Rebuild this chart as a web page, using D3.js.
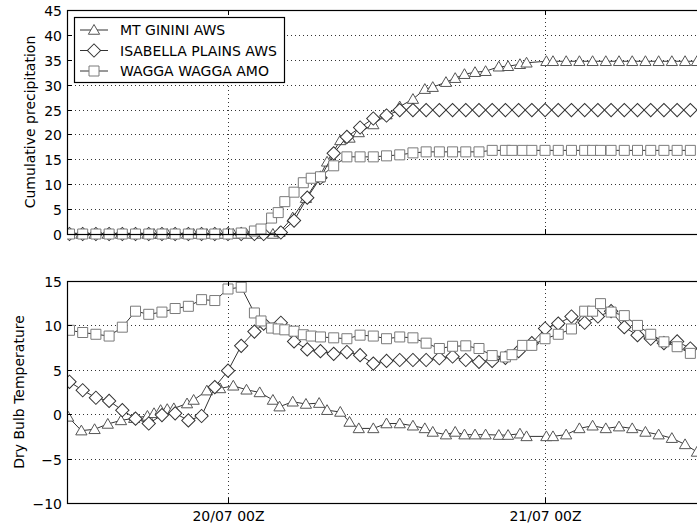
<!DOCTYPE html>
<html lang="en">
  <head>
    <meta charset="UTF-8" />
    <title>station precipitation and temperature</title>
    <style>
      body {
        margin: 0;
        background: #fff;
        overflow: hidden;
      }
      svg text {
        font-family: "DejaVu Sans", sans-serif;
        font-size: 14px;
        fill: #000;
      }
      .grid {
        stroke: #000;
        stroke-width: 0.8;
        stroke-dasharray: 1, 3;
      }
    </style>
  </head>
  <body>
    <div id="chart"></div>
    <script src="https://d3js.org/d3.v7.min.js"></script>
    <script>
      // hours relative to 20/07 00Z
      const stations = ["MT GININI AWS", "ISABELLA PLAINS AWS", "WAGGA WAGGA AMO"];

      const giniHours = [-12.1, -11.1, -10.1, -9.1, -8.1, -7.1, -6.1, -5.6, -5.1, -4.6, -4.1,
        -3.1, -2.6, -1.6, -0.6, 0.4, 1.4, 2.4, 3.4, 3.9, 4.9, 5.9, 6.9, 7.5, 8.5,
        9.2, 9.9, 11, 12, 13, 14, 14.9, 15.5, 16.5, 17.2, 17.9, 18.7, 19.5,
        20.5, 21.2, 22.1, 22.6, 24.1, 24.6, 25.6, 26.6, 27.6, 28.6, 29.6, 30.6,
        31.6, 32.6, 33.6, 34.6, 35.5];
      const giniRain = [0, 0, 0, 0, 0, 0, 0, 0, 0, 0, 0, 0, 0, 0, 0, 0, 0, 0, 0,
        0.4, 3.3, 7.2, 11.3, 14.5, 18.8, 19.3, 20.4, 22.0, 24.0, 25.6, 27.1,
        29.1, 29.5, 30.5, 31.3, 32.1, 32.5, 32.7, 33.6, 33.7, 34.1, 34.4,
        34.7, 34.7, 34.7, 34.7, 34.7, 34.7, 34.7, 34.7, 34.7, 34.7, 34.7, 34.7, 34.7];
      const giniTemp = [-0.3, -1.85, -1.7, -1.1, -0.7, -0.45, -0.2, 0.1, 0.45, 0.56, 0.65,
        1.2, 1.6, 2.65, 2.9, 3.2, 2.75, 2.45, 1.6, 0.85, 1.4, 1.15, 1.25, 0.45, 0.25,
        -0.88, -1.6, -1.6, -1.05, -1.05, -1.3, -1.6, -2.0, -2.3, -2.0, -2.3, -2.3, -2.3,
        -2.35, -2.35, -2.2, -2.5, -2.5, -2.5, -2.3, -1.6, -1.3, -1.6, -1.4, -1.6,
        -2.0, -2.3, -2.7, -3.4, -4.25];

      const isabHours = [-12, -11, -10, -9, -8, -7, -6, -5, -4, -3, -2, -1, 0, 1, 2, 2.7,
        4, 5, 6, 7, 8, 9, 10, 11, 12, 13, 14, 15, 16, 17, 18, 19, 20, 21, 22, 23,
        24, 25, 26, 27, 28, 29, 30, 31, 32, 33, 34, 35];
      const isabRain = [0, 0, 0, 0, 0, 0, 0, 0, 0, 0, 0, 0, 0, 0, 0, 0,
        0.3, 2.7, 7.3, 11.3, 16.2, 19.5, 21.4, 23.2, 23.8, 24.9, 24.9, 24.9, 24.9,
        24.9, 24.9, 24.9, 24.9, 24.9, 24.9, 24.9, 24.9, 24.9, 24.9, 24.9, 24.9,
        24.9, 24.9, 24.9, 24.9, 24.9, 24.9, 24.9];
      const isabTemp = [3.65, 2.7, 1.85, 1.5, 0.45, -0.5, -1.05, -0.1, 0.1, -0.7, -0.2,
        3.05, 4.9, 7.7, 9.3, 10.2, 10.3, 8.2, 7.3, 7.1, 6.8, 7.0, 6.65, 5.7, 6.0,
        6.1, 6.1, 6.1, 6.3, 6.5, 6.1, 5.9, 6.0, 6.35, 7.1, 8.0, 9.65, 10.2, 11.0,
        10.3, 11.0, 11.6, 9.8, 8.9, 8.5, 8.0, 8.2, 7.4];

      const waggaHours = [-12, -11, -10, -9, -8, -7, -6, -5, -4, -3, -2, -1, 0, 1, 2,
        2.5, 3.3, 3.8, 4.3, 5, 5.7, 6.3, 7, 8, 9, 10, 11, 12, 13, 14, 15, 16, 17,
        18, 19, 20, 21, 21.5, 22.3, 23, 24, 25, 26, 27, 27.6, 28.2, 29, 30, 31,
        32, 33, 34, 35];
      const waggaRain = [0, 0, 0, 0, 0, 0, 0, 0, 0, 0, 0, 0, 0, 0.2, 0.6,
        1.0, 3.2, 4.3, 6.5, 8.4, 10.3, 11.2, 11.5, 13.7, 15.5, 15.5, 15.5, 15.7,
        15.9, 16.3, 16.5, 16.5, 16.5, 16.5, 16.5, 16.8, 16.8, 16.8, 16.8, 16.8,
        16.8, 16.8, 16.8, 16.8, 16.8, 16.8, 16.8, 16.8, 16.8, 16.8, 16.8, 16.8, 16.8];
      const waggaTemp = [9.45, 9.2, 9.0, 8.8, 9.8, 11.6, 11.25, 11.5, 11.9, 12.15, 12.9,
        12.8, 14.1, 14.3, 11.4, 10.5, 9.7, 9.6, 9.5, 9.35, 8.95, 8.8, 8.7, 8.6, 8.5,
        8.9, 8.8, 8.5, 8.7, 8.6, 8.0, 7.4, 7.65, 7.7, 7.4, 6.6, 6.45, 6.7, 7.75,
        7.75, 8.5, 9.0, 9.6, 11.6, 11.6, 12.45, 11.5, 11.1, 10.0, 9.0, 8.15, 7.6, 6.85];

      const xTickHours = [0, 24];
      const xTickLabels = ["20/07 00Z", "21/07 00Z"];
      const rainTicks = [0, 5, 10, 15, 20, 25, 30, 35, 40, 45];
      const tempTicks = [-10, -5, 0, 5, 10, 15];

      const width = 697, height = 525;
      const left = 67, right = 700;
      const pxPerHour = 13.21;
      const x = d3.scaleLinear()
        .domain([(left - 228) / pxPerHour, (right - 228) / pxPerHour])
        .range([left, right]);

      const yRain = d3.scaleLinear().domain([0, 45]).range([234, 10]);
      const yTemp = d3.scaleLinear().domain([-10, 15]).range([503, 281]);

      const svg = d3.select("#chart").append("svg")
        .attr("width", width).attr("height", height);

      const styles = [
        { sym: d3.symbolTriangle, size: 55, rot: 0, edge: "#555", dy: 1 },
        { sym: d3.symbolSquare, size: 88, rot: 45, edge: "#333", dy: 0 },
        { sym: d3.symbolSquare, size: 100, rot: 0, edge: "#7a7a7a", dy: 0 }
      ];

      function panel(y, ticks, series, ylabel, labelX, showX) {
        const g = svg.append("g");
        const top = y.range()[1], bottom = y.range()[0];

        // grid
        g.selectAll(".gy").data(ticks).enter().append("line")
          .attr("class", "grid")
          .attr("x1", left).attr("x2", right)
          .attr("y1", d => Math.round(y(d)) + 0.5).attr("y2", d => Math.round(y(d)) + 0.5);
        g.selectAll(".gx").data(xTickHours).enter().append("line")
          .attr("class", "grid")
          .attr("x1", d => Math.round(x(d)) + 0.5).attr("x2", d => Math.round(x(d)) + 0.5)
          .attr("y1", top).attr("y2", bottom);

        const clip = "clip" + top;
        svg.append("clipPath").attr("id", clip).append("rect")
          .attr("x", left).attr("y", top - 8).attr("width", right - left).attr("height", bottom - top + 16);
        const plot = g.append("g").attr("clip-path", `url(#${clip})`);

        series.forEach((s, i) => {
          const pts = s.hours.map((h, j) => [h, s.vals[j]]);
          const st = styles[i];
          plot.append("path")
            .datum(pts)
            .attr("fill", "none")
            .attr("stroke", "#333")
            .attr("stroke-width", 1)
            .attr("d", d3.line().x(d => x(d[0])).y(d => y(d[1])));
          plot.selectAll(null).data(pts).enter().append("path")
            .attr("d", d3.symbol().type(st.sym).size(st.size))
            .attr("transform", d => `translate(${x(d[0])},${y(d[1]) + st.dy}) rotate(${st.rot})`)
            .attr("fill", "#fff")
            .attr("stroke", st.edge)
            .attr("stroke-width", 1);
        });

        // frame
        g.append("rect")
          .attr("x", left + 0.5).attr("y", top + 0.5)
          .attr("width", right - left + 5).attr("height", bottom - top)
          .attr("fill", "none").attr("stroke", "#000").attr("stroke-width", 1.2);

        // ticks, pointing inward
        ticks.forEach(t => {
          const yy = Math.round(y(t)) + 0.5;
          g.append("line").attr("x1", left).attr("x2", left + 5)
            .attr("y1", yy).attr("y2", yy).attr("stroke", "#000");
          g.append("text").attr("x", left - 5).attr("y", yy + 5)
            .attr("text-anchor", "end")
            .text(t < 0 ? "\u2212" + Math.abs(t) : t);
        });
        xTickHours.forEach((h, k) => {
          const xx = Math.round(x(h)) + 0.5;
          g.append("line").attr("x1", xx).attr("x2", xx)
            .attr("y1", top).attr("y2", top + 5).attr("stroke", "#000");
          g.append("line").attr("x1", xx).attr("x2", xx)
            .attr("y1", bottom).attr("y2", bottom - 5).attr("stroke", "#000");
          if (showX) {
            g.append("text").attr("x", xx).attr("y", bottom + 18)
              .attr("text-anchor", "middle").text(xTickLabels[k]);
          }
        });

        g.append("text")
          .attr("transform", `translate(${labelX},${(top + bottom) / 2}) rotate(-90)`)
          .attr("text-anchor", "middle")
          .text(ylabel);
      }

      panel(yRain, rainTicks, [
        { hours: giniHours, vals: giniRain },
        { hours: isabHours, vals: isabRain },
        { hours: waggaHours, vals: waggaRain }
      ], "Cumulative precipitation", 35, false);

      panel(yTemp, tempTicks, [
        { hours: giniHours, vals: giniTemp },
        { hours: isabHours, vals: isabTemp },
        { hours: waggaHours, vals: waggaTemp }
      ], "Dry Bulb Temperature", 24, true);

      // legend
      const leg = svg.append("g");
      leg.append("rect")
        .attr("x", 74.5).attr("y", 17.5).attr("width", 210).attr("height", 65)
        .attr("fill", "#fff").attr("stroke", "#000").attr("stroke-width", 1.2);
      stations.forEach((name, i) => {
        const yy = 30 + i * 20.5;
        const st = styles[i];
        leg.append("line").attr("x1", 80).attr("x2", 108)
          .attr("y1", yy).attr("y2", yy).attr("stroke", "#333");
        leg.append("path")
          .attr("d", d3.symbol().type(st.sym).size(st.size))
          .attr("transform", `translate(94,${yy + st.dy}) rotate(${st.rot})`)
          .attr("fill", "#fff").attr("stroke", st.edge);
        leg.append("text").attr("x", 120).attr("y", yy + 5).text(name);
      });
    </script>
  </body>
</html>
